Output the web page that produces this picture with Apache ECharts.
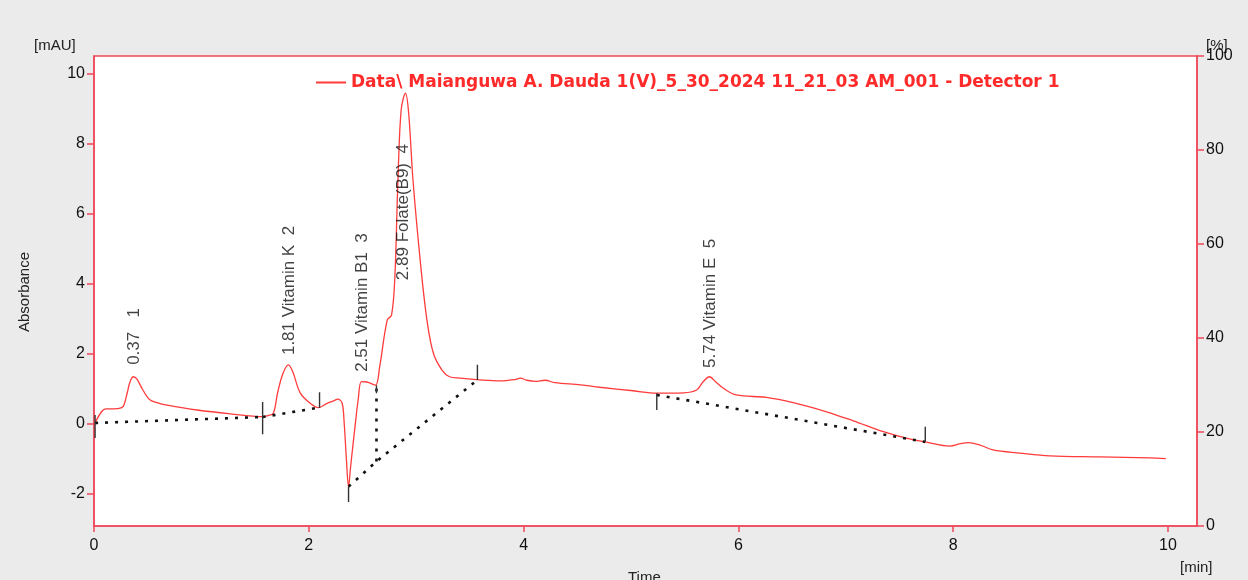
<!DOCTYPE html>
<html>
<head>
<meta charset="utf-8">
<script src="https://cdn.jsdelivr.net/npm/echarts@6/dist/echarts.min.js"></script>
<style>
html,body{margin:0;padding:0;background:#ebebeb;}
#chart{width:1248px;height:580px;}
</style>
</head>
<body>
<div id="chart"></div>
<script>
// ---- data ----
const seriesName = 'Data\\ Maianguwa A. Dauda 1(V)_5_30_2024 11_21_03 AM_001 - Detector 1';
const times = [0.01,0.07,0.11,0.18,0.26,0.28,0.31,0.335,0.366,0.40,0.45,0.52,0.60,0.68,0.96,1.27,1.57,1.62,1.67,1.71,1.76,1.81,1.85,1.92,2.01,2.09,2.17,2.23,2.27,2.31,2.33,2.35,2.37,2.39,2.43,2.46,2.49,2.54,2.62,2.66,2.73,2.77,2.80,2.83,2.86,2.90,2.93,2.97,3.04,3.10,3.16,3.24,3.31,3.41,3.59,3.78,3.92,3.97,4.03,4.11,4.20,4.29,4.53,4.71,5.02,5.24,5.49,5.61,5.67,5.73,5.79,5.86,5.98,6.26,6.51,6.82,7.07,7.35,7.57,7.74,7.97,8.06,8.14,8.25,8.37,8.62,8.90,9.37,9.83,9.98];
const absorbance = [0.03,0.35,0.43,0.43,0.47,0.55,0.90,1.20,1.35,1.28,1.00,0.69,0.60,0.54,0.40,0.29,0.21,0.24,0.31,0.90,1.45,1.69,1.50,0.89,0.60,0.47,0.59,0.66,0.71,0.60,0.00,-1.00,-1.79,-1.20,-0.08,0.70,1.21,1.20,1.11,1.64,2.97,3.11,4.11,6.97,8.97,9.45,8.88,6.97,4.59,2.97,2.02,1.54,1.35,1.31,1.26,1.23,1.27,1.31,1.25,1.22,1.25,1.18,1.12,1.05,0.95,0.88,0.89,0.97,1.20,1.35,1.20,1.02,0.83,0.76,0.61,0.35,0.09,-0.22,-0.41,-0.51,-0.63,-0.57,-0.53,-0.60,-0.74,-0.83,-0.91,-0.94,-0.97,-0.99];

// integration baselines (dotted), each a list of [time, absorbance]
const baselines = [
  [[0.01,0.03],[1.57,0.20]],
  [[1.57,0.20],[2.10,0.47]],
  [[2.37,-1.79],[2.63,-1.07],[3.57,1.26]],
  [[2.63,-1.07],[2.63,1.11]],
  [[5.24,0.83],[7.74,-0.51]]
];
// peak start/end markers: [time, from, to]
const peakMarks = [[0.01,0.26,-0.40],[1.57,0.63,-0.29],[2.10,0.91,0.46],[2.37,-1.80,-2.23],[2.63,1.11,0.88],[3.57,1.69,1.26],[5.24,0.88,0.40],[7.74,-0.08,-0.51]];

// peak annotations
const peakLabels = ['0.37   1','1.81 Vitamin K  2','2.51 Vitamin B1  3','2.89 Folate(B9)  4','5.74 Vitamin E  5'];
const labelTimes = [0.38,1.82,2.50,2.88,5.74];
const labelAnchors = [1.69,1.97,1.49,4.11,1.60];

const xTicks = [0,2,4,6,8,10];
const yTicks = [-2,0,2,4,6,8,10];
const pctTicks = [0,20,40,60,80,100];

// ---- chart ----
const RED_AXIS = '#f0485a';
const FONT = 'Liberation Sans';
const chart = echarts.init(document.getElementById('chart'));

const series = [{
  name: seriesName,
  type: 'line',
  data: times.map((t,i)=>[t,absorbance[i]]),
  showSymbol: false,
  smooth: 0.35,
  lineStyle: {color:'#ff3b3b', width:1.3},
  itemStyle: {color:'#ff3b3b'},
  z: 3,
  silent: true
}];
baselines.forEach(seg => series.push({
  type:'line', data: seg, showSymbol:false, silent:true, z:4,
  lineStyle:{color:'#111', width:2.6, type:[3,7]}
}));
peakMarks.forEach(m => series.push({
  type:'line', data:[[m[0],m[1]],[m[0],m[2]]], showSymbol:false, silent:true, z:5,
  lineStyle:{color:'#333', width:1.4}
}));
series.push({
  type:'scatter',
  data: labelTimes.map((t,i)=>[t,labelAnchors[i],peakLabels[i]]),
  symbolSize: 2,
  itemStyle:{color:'rgba(0,0,0,0)'},
  silent:true,
  z:6,
  label:{
    show:true, position:'inside', rotate:90, align:'left', verticalAlign:'middle',
    formatter: p => p.data[2],
    color:'#111', fontFamily:FONT, fontSize:17
  }
});

chart.setOption({
  backgroundColor:'#ebebeb',
  animation:false,
  grid:{left:94,right:51,top:56,bottom:54,show:true,backgroundColor:'#ffffff',borderColor:RED_AXIS,borderWidth:1.5,containLabel:false,outerBoundsMode:'none'},
  legend:{
    data:[seriesName], left:311, top:69, icon:'rect', itemWidth:30, itemHeight:2, itemGap:6,
    textStyle:{color:'#ff2a2a', fontWeight:'bold', fontSize:17, fontFamily:'DejaVu Sans'}
  },
  xAxis:{
    type:'value', min:0, max:10.27,
    axisLine:{show:true,onZero:false,lineStyle:{color:RED_AXIS,width:1.5}},
    axisTick:{show:true,customValues:xTicks,length:6,lineStyle:{color:RED_AXIS,width:1.5}},
    axisLabel:{customValues:xTicks,color:'#111',fontSize:16,fontFamily:FONT,margin:12},
    splitLine:{show:false}
  },
  yAxis:[{
    type:'value', min:-2.914, max:10.514,
    axisLine:{show:true,lineStyle:{color:RED_AXIS,width:1.5}},
    axisTick:{show:true,customValues:yTicks,length:7,lineStyle:{color:RED_AXIS,width:1.5}},
    axisLabel:{customValues:yTicks,color:'#111',fontSize:16,fontFamily:FONT,margin:9},
    splitLine:{show:false}
  },{
    type:'value', min:0, max:100, interval:20, position:'right',
    axisLine:{show:true,lineStyle:{color:RED_AXIS,width:1.5}},
    axisTick:{show:true,customValues:pctTicks,length:7,lineStyle:{color:RED_AXIS,width:1.5}},
    axisLabel:{customValues:pctTicks,color:'#111',fontSize:16,fontFamily:FONT,margin:9},
    splitLine:{show:false}
  }],
  graphic:[
    {type:'text',left:34,top:38,style:{text:'[mAU]',fill:'#222',font:'15px "Liberation Sans"'}},
    {type:'text',left:1206,top:38,style:{text:'[%]',fill:'#222',font:'15px "Liberation Sans"'}},
    {type:'text',left:1180,top:560,style:{text:'[min]',fill:'#222',font:'15px "Liberation Sans"'}},
    {type:'text',left:628,top:570,style:{text:'Time',fill:'#222',font:'15px "Liberation Sans"'}},
    {type:'text',x:25,y:292,rotation:Math.PI/2,style:{text:'Absorbance',fill:'#222',font:'15px "Liberation Sans"',align:'center',verticalAlign:'middle'}}
  ],
  series: series
});
</script>
</body>
</html>
